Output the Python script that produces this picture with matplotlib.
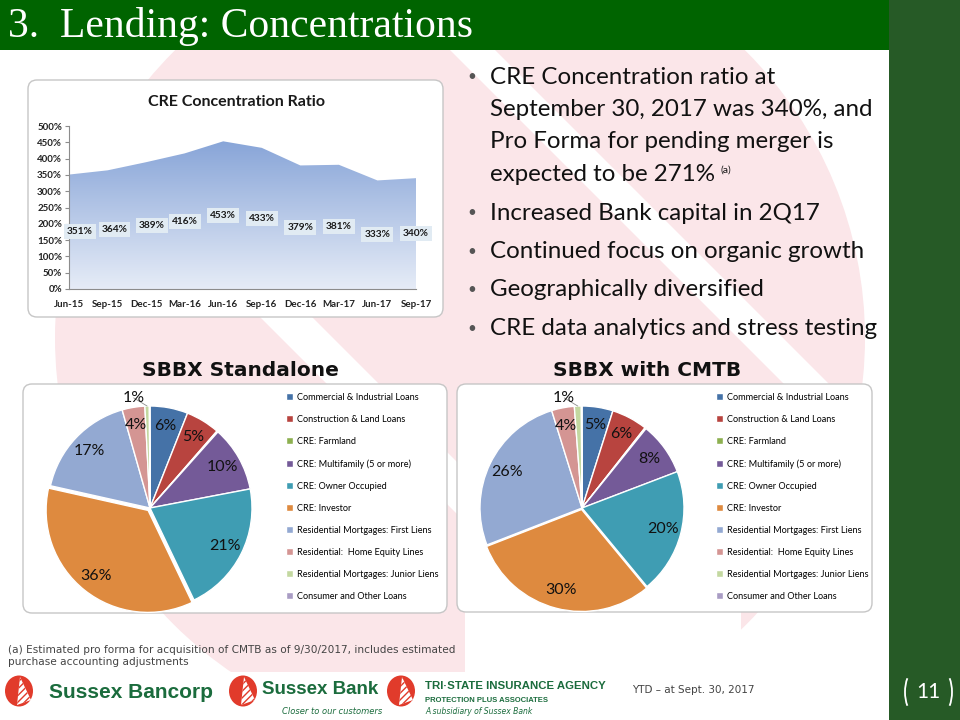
import numpy as np
import matplotlib
matplotlib.use('Agg')
import matplotlib.pyplot as plt
from matplotlib.colors import LinearSegmentedColormap
from matplotlib.patches import FancyBboxPatch, Circle, Polygon, Ellipse, Arc, Rectangle

W, H = 960, 720

# CRE concentration ratio by quarter
quarters = ['Jun-15', 'Sep-15', 'Dec-15', 'Mar-16', 'Jun-16',
            'Sep-16', 'Dec-16', 'Mar-17', 'Jun-17', 'Sep-17']
cre_ratio = [351, 364, 389, 416, 453, 433, 379, 381, 333, 340]

# loan mix (%)
loan_types = ['Commercial & Industrial Loans', 'Construction & Land Loans',
              'CRE: Farmland', 'CRE: Multifamily (5 or more)',
              'CRE: Owner Occupied', 'CRE: Investor',
              'Residential Mortgages: First Liens',
              'Residential:  Home Equity Lines',
              'Residential Mortgages: Junior Liens',
              'Consumer and Other Loans']
standalone_pct = [6.0, 5.4, 0.2, 10.4, 20.9, 35.6, 17.1, 3.6, 0.7, 0.1]
cmtb_pct = [4.9, 5.7, 0.2, 8.4, 19.8, 30.1, 26.1, 3.6, 1.1, 0.1]
loan_colors = ['#4572A7', '#B8443F', '#8DB050', '#745A98', '#3F9DB3',
               '#DE8A3F', '#93A9D2', '#D49593', '#C3D8A0', '#A99CC4']

bullets = [
    ['CRE Concentration ratio at', 'September 30, 2017 was 340%, and',
     'Pro Forma for pending merger is', 'expected to be 271%'],
    ['Increased Bank capital in 2Q17'],
    ['Continued focus on organic growth'],
    ['Geographically diversified'],
    ['CRE data analytics and stress testing'],
]

SANS = ['Lato', 'DejaVu Sans']
GREEN = '#006400'
DARK_GREEN = '#265a26'
LOGO_GREEN = '#1b6c3d'
LOGO_RED = '#e13b2b'
PINK = '#fbe6e9'


def fx(x):
    return x / W


def fy(y):
    return 1 - y / H


def box(x0, y0, x1, y1):
    return [x0 / W, 1 - y1 / H, (x1 - x0) / W, (y1 - y0) / H]


fig = plt.figure(figsize=(9.6, 7.2), dpi=100)

# background layer in pixel coords
bg = fig.add_axes([0, 0, 1, 1], zorder=0)
bg.set_xlim(0, W)
bg.set_ylim(H, 0)
bg.axis('off')

# faint logo watermark
wm = Circle((460, 338), 405, facecolor=PINK, edgecolor='none')
bg.add_patch(wm)
for a, b, y0 in [(450, 495, 50), (253, 305, 310)]:
    t0, t1 = 400, 800
    band = Polygon([(a - t0, y0 - t0), (b - t0, y0 - t0),
                    (b + t1, y0 + t1), (a + t1, y0 + t1)],
                   facecolor='white', edgecolor='none')
    bg.add_patch(band)
    band.set_clip_path(wm)
trunk = Rectangle((465, 560), 276, 160, facecolor='white', edgecolor='none')
bg.add_patch(trunk)

# header bar + right strip
bg.add_patch(Rectangle((0, 0), W, 50, facecolor=GREEN, edgecolor='none'))
bg.add_patch(Rectangle((889, 0), W - 889, H, facecolor=DARK_GREEN, edgecolor='none'))
bg.text(8, 27, '3.  Lending: Concentrations', color='white', fontsize=30,
        family=['Liberation Serif', 'DejaVu Serif'], va='center', ha='left')

# chart frames
for x0, y0, x1, y1 in [(28, 80, 443, 317), (23, 384, 447, 613), (457, 384, 872, 612)]:
    bg.add_patch(FancyBboxPatch((x0, y0), x1 - x0, y1 - y0,
                                boxstyle='round,pad=0,rounding_size=9',
                                facecolor='white', edgecolor='#c6c6c6', lw=1.0))

# white area behind logos
bg.add_patch(Rectangle((0, 672), 605, 48, facecolor='white', edgecolor='none'))

# ---------- area chart ----------
ax = fig.add_axes(box(69, 126, 416, 289), zorder=2)
ax.patch.set_alpha(0)
x = np.arange(len(quarters))
verts = [(x[0], 0)] + list(zip(x, cre_ratio)) + [(x[-1], 0)]
poly = Polygon(verts, closed=True, facecolor='none', edgecolor='none')
ax.add_patch(poly)
cmap = LinearSegmentedColormap.from_list('area', ['#e6ecf7', '#88a5d8'])
grad = np.linspace(0, 1, 256).reshape(-1, 1)
im = ax.imshow(grad, extent=[x[0], x[-1], 0, max(cre_ratio)], origin='lower',
               aspect='auto', cmap=cmap, zorder=1)
im.set_clip_path(poly)
ax.set_xlim(x[0], x[-1])
ax.set_ylim(0, 500)
for s in ['top', 'right']:
    ax.spines[s].set_visible(False)
for s in ['left', 'bottom']:
    ax.spines[s].set_color('#8c8c8c')
    ax.spines[s].set_linewidth(0.8)
yt = np.arange(0, 501, 50)
ax.set_yticks(yt, [f'{v}%' for v in yt], fontweight='bold', family=SANS)
ax.set_xticks(x, quarters, fontweight='bold', family=SANS)
ax.tick_params(axis='y', length=3, width=0.8, color='#8c8c8c', pad=2,
               labelsize=7, labelcolor='#222222')
ax.tick_params(axis='x', length=0, pad=8, labelsize=7, labelcolor='#222222')
label_shift = [8, 5, 4, 0, 0, 0, 0, 0, 0, 0]  # Excel nudges the first labels right
for i, v in enumerate(cre_ratio):
    ax.annotate(f'{v}%', (i, v / 2), xytext=(label_shift[i], 0),
                textcoords='offset points',
                ha='center', va='center', fontsize=7.3, fontweight='bold',
                family=SANS, color='#1a1a1a', zorder=3,
                bbox=dict(facecolor='#e1ebf3', edgecolor='none', pad=2.2))
fig.text(fx(236), fy(102), 'CRE Concentration Ratio', ha='center', va='center',
         fontsize=11.5, fontweight='bold', family=SANS, color='#1a1a1a')


# ---------- pies ----------
def draw_pie(cx, cy, vals, title, title_x, legend_x, explode_inv):
    r_px, half = 102, 118
    pax = fig.add_axes(box(cx - half, cy - half, cx + half, cy + half), zorder=2)
    pax.patch.set_alpha(0)
    explode = [explode_inv if t == 'CRE: Investor' else 0 for t in loan_types]
    wedges, _ = pax.pie(vals, colors=loan_colors, startangle=90, counterclock=False,
                        explode=explode, radius=1,
                        wedgeprops=dict(edgecolor='white', linewidth=1.0))
    lim = half / r_px
    pax.set_xlim(-lim, lim)
    pax.set_ylim(-lim, lim)
    pax.set_aspect('equal')
    pax.axis('off')
    for w, v, t in zip(wedges, vals, loan_types):
        ang = np.deg2rad((w.theta1 + w.theta2) / 2)
        if v >= 2:
            d = 0.82 + (explode_inv if t == 'CRE: Investor' else 0)
            pax.text(d * np.cos(ang), d * np.sin(ang), f'{v:.0f}%', ha='center',
                     va='center', fontsize=11.5, family=SANS, color='#111111')
        elif v >= 0.5:
            pax.annotate(f'{max(1, round(v))}%', xy=(np.cos(ang), np.sin(ang)),
                         xytext=(np.cos(ang) * 1.08 - 0.13, np.sin(ang) * 1.08),
                         ha='center', va='center', fontsize=11.5, family=SANS,
                         color='#111111',
                         arrowprops=dict(arrowstyle='-', color='#8c8c8c', lw=0.6,
                                         shrinkA=0, shrinkB=0))
    pax.legend(wedges, loan_types, loc='upper left',
               bbox_to_anchor=(fx(legend_x), fy(393)), bbox_transform=fig.transFigure,
               frameon=False, borderpad=0, borderaxespad=0, handlelength=0.75,
               handleheight=0.75, handletextpad=0.5, labelspacing=1.42,
               prop=dict(family=SANS, size=6.6))
    fig.text(fx(title_x), fy(371), title, ha='center', va='center', fontsize=14.5,
             fontweight='bold', family='DejaVu Sans', color='#111111')


draw_pie(150, 508, standalone_pct, 'SBBX Standalone', 240, 286, 0.03)
draw_pie(582, 508, cmtb_pct, 'SBBX with CMTB', 647, 716, 0.015)

# ---------- bullets ----------
y = 77
note = None
for item in bullets:
    fig.text(fx(467), fy(y), '\u2022', ha='left', va='center', fontsize=11,
             family=SANS, color='#555555')
    for line in item:
        t = fig.text(fx(490), fy(y), line, ha='left', va='center', fontsize=17.4,
                     family=SANS, color='#111111')
        if line.endswith('271%'):
            note = t
        y += 32.5
    y += 6
ax.annotate('(a)', xy=(1, 0.5), xycoords=note, xytext=(4, 3),
            textcoords='offset points', fontsize=7.5, family=SANS,
            color='#111111', va='center', ha='left', annotation_clip=False)

# ---------- footer ----------
fig.text(fx(8), fy(650), '(a) Estimated pro forma for acquisition of CMTB as of '
         '9/30/2017, includes estimated', fontsize=7.6, family='DejaVu Sans',
         color='#444444', va='center')
fig.text(fx(8), fy(662), 'purchase accounting adjustments', fontsize=7.6,
         family='DejaVu Sans', color='#444444', va='center')
fig.text(fx(632), fy(690), 'YTD \u2013 at Sept. 30, 2017', fontsize=7.5,
         family='DejaVu Sans', color='#444444', va='center')

for lx in [19, 243, 401]:
    bg.add_patch(Ellipse((lx, 691), 28, 31, facecolor=LOGO_RED, edgecolor='none'))
    bg.add_patch(Polygon([(lx + 1, 677), (lx - 2, 705), (lx + 12, 700)],
                         facecolor='white', edgecolor=LOGO_RED, hatch='/////', lw=0))
bg.text(49, 692, 'Sussex Bancorp', fontsize=15, fontweight='bold',
        family='Liberation Sans', color=LOGO_GREEN, va='center')
bg.text(262, 690, 'Sussex Bank', fontsize=13.5, fontweight='bold',
        family='Liberation Sans', color=LOGO_GREEN, va='center')
bg.text(282, 711, 'Closer to our customers', fontsize=6, style='italic',
        family='DejaVu Sans', color=LOGO_GREEN, va='center')
bg.text(425, 686, 'TRI\u00b7STATE INSURANCE AGENCY', fontsize=8.2, fontweight='bold',
        family='Liberation Sans', color=LOGO_GREEN, va='center')
bg.text(425, 700, 'PROTECTION PLUS ASSOCIATES', fontsize=5.5, fontweight='bold',
        family='Liberation Sans', color=LOGO_GREEN, va='center')
bg.text(425, 711, 'A subsidiary of Sussex Bank', fontsize=5.5, style='italic',
        family='DejaVu Sans', color=LOGO_GREEN, va='center')

# page number
bg.add_patch(Arc((917, 692), 24, 46, theta1=125, theta2=235, color='white', lw=1.3))
bg.add_patch(Arc((940, 692), 24, 46, theta1=-55, theta2=55, color='white', lw=1.3))
bg.text(928, 692, '11', fontsize=15, color='white', family=SANS, ha='center', va='center')

fig.savefig('out.png', dpi=100)
